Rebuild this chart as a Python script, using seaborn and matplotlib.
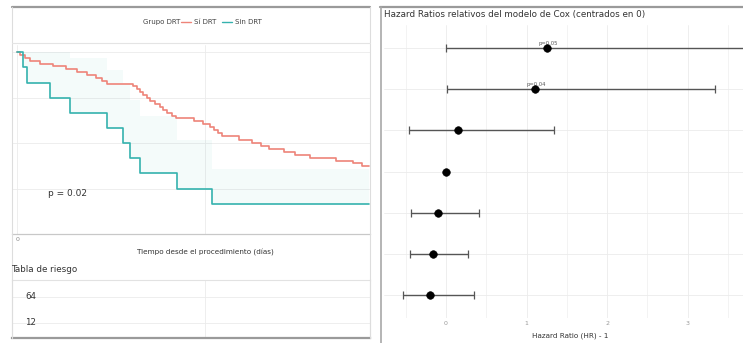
import matplotlib
matplotlib.use("Agg")
import matplotlib.pyplot as plt
from matplotlib.lines import Line2D
import pandas as pd
import seaborn as sns

# ---------------- data ----------------
group_title = "Grupo DRT"
group_names = ["Sí DRT", "Sin DRT"]
group_colors = ["#EE8479", "#35B2AE"]

# Kaplan-Meier step levels (days since procedure, survival probability)
si_drt_time = [0, 15, 40, 70, 120, 190, 260, 320, 370, 420, 455, 480, 620, 640,
               655, 670, 690, 710, 735, 760, 780, 800, 825, 845, 945, 990, 1030,
               1050, 1070, 1090, 1180, 1250, 1300, 1340, 1420, 1480, 1560, 1700,
               1790, 1840, 1875]
si_drt_surv = [1.000, 0.984, 0.969, 0.953, 0.938, 0.922, 0.906, 0.891, 0.875,
               0.859, 0.844, 0.828, 0.812, 0.796, 0.780, 0.764, 0.748, 0.732,
               0.716, 0.700, 0.684, 0.668, 0.652, 0.636, 0.620, 0.604, 0.588,
               0.571, 0.554, 0.537, 0.520, 0.503, 0.486, 0.469, 0.452, 0.436,
               0.420, 0.404, 0.388, 0.372, 0.372]

sin_drt_time = [0, 32, 53, 176, 282, 479, 564, 601, 654, 851, 1037, 1875]
sin_drt_surv = [1.000, 0.917, 0.833, 0.750, 0.667, 0.583, 0.500, 0.417, 0.333,
                0.250, 0.167, 0.167]
sin_drt_upper = [1.000, 1.000, 1.000, 1.000, 0.970, 0.900, 0.830, 0.740, 0.650,
                 0.520, 0.360, 0.360]

p_value_text = "p = 0.02"
risk_label = "Tabla de riesgo"
risk_counts = ["64", "12"]
km_xlabel = "Tiempo desde el procedimiento (días)"

# Cox model: hazard ratio minus one with confidence limits
hr_rows = [0, 1, 2, 3, 4, 5, 6]
hr_est = [1.25, 1.10, 0.15, 0.00, -0.10, -0.16, -0.20]
hr_low = [0.00, 0.01, -0.46, 0.00, -0.44, -0.45, -0.54]
hr_high = [4.50, 3.34, 1.34, 0.00, 0.41, 0.27, 0.35]
hr_pvals = ["p=0.05", "p=0.04", "", "", "", "", ""]
hr_title = "Hazard Ratios relativos del modelo de Cox (centrados en 0)"
hr_xlabel = "Hazard Ratio (HR) - 1"
hr_ticks = [0, 1, 2, 3]

# ---------------- figure ----------------
W, H = 743, 343
sns.set_theme(style="whitegrid")
plt.rcParams["font.family"] = ["DejaVu Sans"]
plt.rcParams["grid.color"] = "#EBEBEB"
plt.rcParams["grid.linewidth"] = 0.6

fig = plt.figure(figsize=(W / 100, H / 100), dpi=100)
fig.patch.set_facecolor("white")


def box(l, t, r, b):
    return [l / W, 1 - b / H, (r - l) / W, (b - t) / H]


def fx(x):
    return x / W


def fy(y):
    return 1 - y / H


def hline(x0, x1, y, color, lw):
    fig.add_artist(Line2D([fx(x0), fx(x1)], [fy(y), fy(y)], color=color, lw=lw,
                          transform=fig.transFigure))


def vline(x, y0, y1, color, lw):
    fig.add_artist(Line2D([fx(x), fx(x)], [fy(y0), fy(y1)], color=color, lw=lw,
                          transform=fig.transFigure))


# panel frames
hline(12, 370, 7, "#9A9A9A", 1.6)
hline(380, 743, 7, "#9A9A9A", 1.6)
vline(12, 7, 338, "#DDDDDD", 0.8)
vline(370, 7, 338, "#DDDDDD", 0.8)
hline(12, 370, 43, "#E4E4E4", 0.8)
vline(381, 7, 343, "#A8A8A8", 1.2)

# ---------------- Kaplan-Meier curves ----------------
km = fig.add_axes(box(12, 45, 370, 234))
km_df = pd.concat([
    pd.DataFrame({"dias": si_drt_time, "surv": si_drt_surv, "grupo": group_names[0]}),
    pd.DataFrame({"dias": sin_drt_time, "surv": sin_drt_surv, "grupo": group_names[1]}),
])
km.fill_between(sin_drt_time, sin_drt_surv, sin_drt_upper, step="post",
                color=group_colors[1], alpha=0.05, lw=0)
sns.lineplot(data=km_df, x="dias", y="surv", hue="grupo", palette=group_colors,
             drawstyle="steps-post", lw=1.2, estimator=None, legend=False, ax=km)
km.set_xlim(-27, 1880)
km.set_ylim(0, 1.04)
km.set_xticks([0, 1000])
km.set_xticklabels(["0", ""])
km.set_yticks([0, 0.25, 0.5, 0.75, 1.0])
km.set_yticklabels([])
km.tick_params(axis="x", labelsize=4.5, labelcolor="#888888", pad=2, length=0)
km.tick_params(axis="y", length=0)
km.set_xlabel("")
km.set_ylabel("")
for side in ["top", "left", "right"]:
    km.spines[side].set_visible(False)
km.spines["bottom"].set_color("#C8C8C8")
km.spines["bottom"].set_linewidth(0.9)
km.text(266, 0.222, p_value_text, ha="center", va="center", fontsize=6.5, color="#333333")

# legend
fig.text(fx(180), fy(22), group_title, ha="right", va="center", fontsize=5, color="#444444")
handles = [Line2D([], [], color=c, lw=1.0) for c in group_colors]
fig.legend(handles, group_names, loc="center left", bbox_to_anchor=(fx(181), fy(22)),
           ncol=2, frameon=False, fontsize=5, handlelength=1.4, handletextpad=0.5,
           columnspacing=0.8, labelcolor="#444444", borderaxespad=0, borderpad=0)

fig.text(fx(205), fy(252), km_xlabel, ha="center", va="center", fontsize=5.2, color="#333333")

# ---------------- risk table ----------------
fig.text(fx(11), fy(270), risk_label, ha="left", va="center", fontsize=6.3, color="#333333")
rt = fig.add_axes(box(12, 280, 370, 338))
rt.set_xlim(-27, 1880)
rt.set_ylim(0, 1)
rt.set_xticks([1000])
rt.set_xticklabels([])
rt.set_yticks([0.259, 0.707])
rt.set_yticklabels([])
rt.tick_params(length=0)
for side in ["top", "left", "right"]:
    rt.spines[side].set_color("#E2E2E2")
    rt.spines[side].set_linewidth(0.8)
rt.spines["bottom"].set_color("#9A9A9A")
rt.spines["bottom"].set_linewidth(1.6)
for yv, lab in zip([0.707, 0.259], risk_counts):
    rt.text(0.036, yv, lab, transform=rt.transAxes, ha="left", va="center",
            fontsize=6.3, color="#333333")

# ---------------- Cox hazard ratios ----------------
fig.text(fx(384), fy(15), hr_title, ha="left", va="center", fontsize=6.3, color="#333333")
fp = fig.add_axes(box(384, 25, 743, 318))
hr_df = pd.DataFrame({"row": hr_rows, "hr": hr_est, "low": hr_low, "high": hr_high,
                      "p": hr_pvals})
ci = hr_df[hr_df["high"] > hr_df["low"]]
fp.errorbar(ci["hr"], ci["row"], xerr=[ci["hr"] - ci["low"], ci["high"] - ci["hr"]],
            fmt="none", ecolor="#555555", elinewidth=1.0, capsize=3, capthick=0.9)
sns.scatterplot(data=hr_df, x="hr", y="row", color="black", s=30, edgecolor="black",
                zorder=5, ax=fp)
for _, r in hr_df.iterrows():
    if r["p"]:
        fp.annotate(r["p"], (r["hr"], r["row"]), xytext=(1, 1.5), textcoords="offset points",
                    ha="center", va="bottom", fontsize=3.8, color="#555555")
fp.set_xlim(-0.770, 3.689)
fp.set_ylim(6.56, -0.56)
fp.set_xticks(hr_ticks)
fp.set_xticks([-0.5, 0.5, 1.5, 2.5, 3.5], minor=True)
fp.grid(which="minor", axis="x", color="#F1F1F1", lw=0.6)
fp.set_yticks(hr_rows)
fp.set_yticklabels([])
fp.tick_params(axis="x", labelsize=4.5, labelcolor="#999999", pad=2, length=0)
fp.tick_params(axis="y", length=0)
fp.set_xlabel("")
fp.set_ylabel("")
for side in fp.spines:
    fp.spines[side].set_visible(False)
fig.text(fx(570), fy(336), hr_xlabel, ha="center", va="center", fontsize=5.2, color="#333333")

fig.savefig("out.png", dpi=100, facecolor="white")
